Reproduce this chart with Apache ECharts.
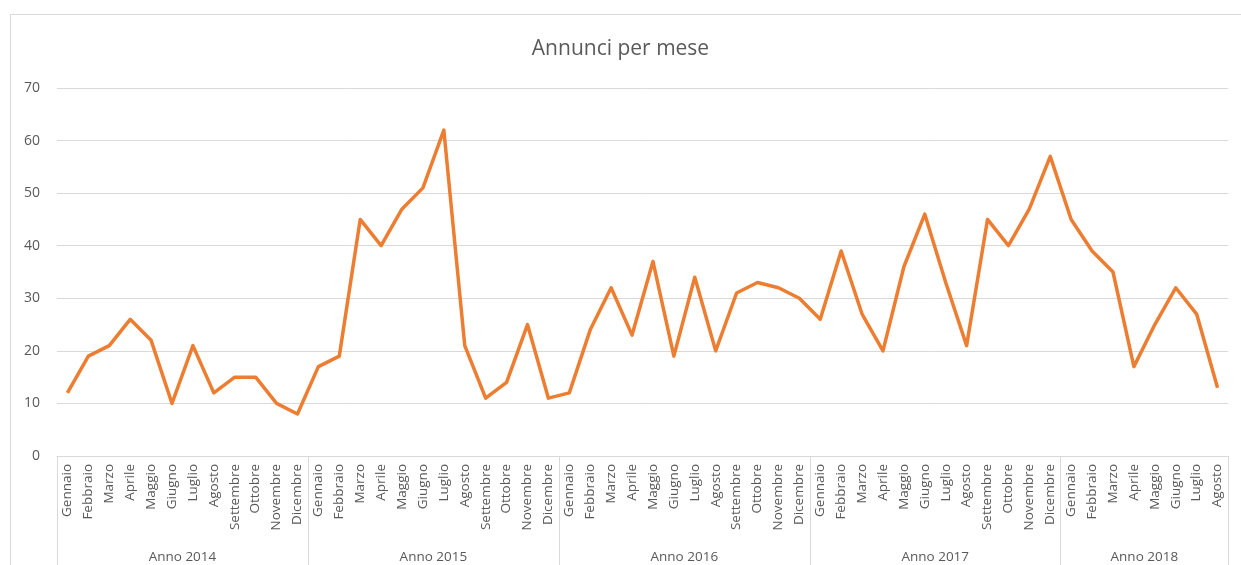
<!DOCTYPE html>
<html>
<head>
<meta charset="utf-8">
<title>Annunci per mese</title>
<script src="https://cdn.jsdelivr.net/npm/echarts@6/dist/echarts.min.js"></script>
<style>
  html, body { margin: 0; padding: 0; background: #fff; }
  #chart { position: absolute; left: 0; top: 0; width: 1241px; height: 565px; }
  .frame {
    position: absolute; left: 10px; top: 14px; width: 1300px; height: 600px;
    border-left: 1px solid #d9d9d9; border-top: 1px solid #d9d9d9;
    pointer-events: none;
  }
</style>
</head>
<body>
<div id="chart"></div>
<div class="frame"></div>
<script>
// mesi e anni
const monthNames = ['Gennaio', 'Febbraio', 'Marzo', 'Aprile', 'Maggio', 'Giugno',
  'Luglio', 'Agosto', 'Settembre', 'Ottobre', 'Novembre', 'Dicembre']
const years = ['Anno 2014', 'Anno 2015', 'Anno 2016', 'Anno 2017', 'Anno 2018']
const monthsPerYear = [12, 12, 12, 12, 8]

// annunci per mese, un array per anno
const annunci2014 = [12, 19, 21, 26, 22, 10, 21, 12, 15, 15, 10, 8]
const annunci2015 = [17, 19, 45, 40, 47, 51, 62, 21, 11, 14, 25, 11]
const annunci2016 = [12, 24, 32, 23, 37, 19, 34, 20, 31, 33, 32, 30]
const annunci2017 = [26, 39, 27, 20, 36, 46, 33, 21, 45, 40, 47, 57]
const annunci2018 = [45, 39, 35, 17, 25, 32, 27, 13]

const yTicks = [0, 10, 20, 30, 40, 50, 60, 70]

// costruisco categorie e valori
const categories = []
monthsPerYear.forEach(n => {
  for (let i = 0; i < n; i++) categories.push(monthNames[i])
})
const values = [].concat(annunci2014, annunci2015, annunci2016, annunci2017, annunci2018)

// confini e centri dei gruppi per anno
const yearBounds = [0]
const yearCenters = []
monthsPerYear.forEach(n => {
  const start = yearBounds[yearBounds.length - 1]
  yearCenters.push(start + n / 2)
  yearBounds.push(start + n)
})

const textColor = '#595959'
const lineGray = '#d9d9d9'
const font = 'Open Sans'

const chart = echarts.init(document.getElementById('chart'))

chart.setOption({
  animation: false,
  backgroundColor: '#fff',
  title: {
    text: 'Annunci per mese',
    left: 'center',
    top: 34,
    textStyle: { fontSize: 21, fontWeight: 'normal', color: textColor, fontFamily: font }
  },
  grid: { left: 57, right: 13, top: 88, bottom: 109, containLabel: false },
  xAxis: [
    {
      type: 'category',
      data: categories,
      boundaryGap: true,
      axisLine: { lineStyle: { color: lineGray, width: 1 } },
      axisTick: { show: false },
      axisLabel: {
        rotate: 90,
        interval: 0,
        margin: 8,
        fontSize: 13.5,
        color: textColor,
        fontFamily: font
      },
      splitLine: { show: false }
    },
    {
      type: 'value',
      position: 'bottom',
      min: 0,
      max: categories.length,
      axisLine: { show: false },
      axisTick: {
        show: true,
        customValues: yearBounds,
        length: 110,
        lineStyle: { color: lineGray, width: 1 }
      },
      axisLabel: {
        customValues: yearCenters,
        margin: 94,
        fontSize: 13.5,
        color: textColor,
        fontFamily: font,
        formatter: v => {
          const idx = yearCenters.indexOf(v)
          return idx >= 0 ? years[idx] : ''
        }
      },
      splitLine: { show: false }
    }
  ],
  yAxis: {
    type: 'value',
    min: yTicks[0],
    max: yTicks[yTicks.length - 1],
    interval: 10,
    axisLine: { show: false },
    axisTick: { show: false },
    axisLabel: { margin: 17, fontSize: 14, color: textColor, fontFamily: font },
    splitLine: { lineStyle: { color: lineGray, width: 1 } }
  },
  series: [
    {
      name: 'Annunci',
      type: 'line',
      xAxisIndex: 0,
      data: values,
      symbol: 'none',
      smooth: false,
      lineStyle: { color: '#ED7D31', width: 3.5, join: 'round' },
      itemStyle: { color: '#ED7D31' }
    }
  ]
})
</script>
</body>
</html>
